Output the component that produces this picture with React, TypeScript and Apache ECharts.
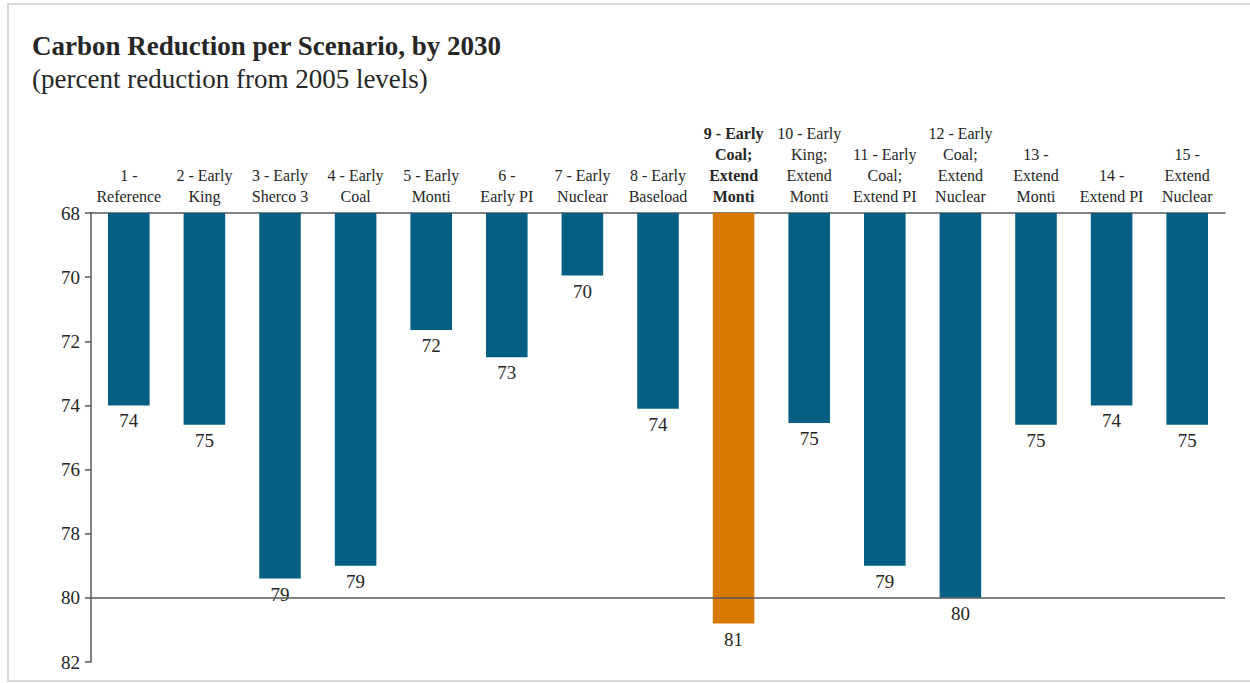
import React, { useEffect, useRef } from "react";
import * as echarts from "echarts";

const categories = [
  "1 -\nReference",
  "2 - Early\nKing",
  "3 - Early\nSherco 3",
  "4 - Early\nCoal",
  "5 - Early\nMonti",
  "6 -\nEarly PI",
  "7 - Early\nNuclear",
  "8 - Early\nBaseload",
  "9 - Early\nCoal;\nExtend\nMonti",
  "10 - Early\nKing;\nExtend\nMonti",
  "11 - Early\nCoal;\nExtend PI",
  "12 - Early\nCoal;\nExtend\nNuclear",
  "13 -\nExtend\nMonti",
  "14 -\nExtend PI",
  "15 -\nExtend\nNuclear",
];
const values = [74.0, 74.6, 79.4, 79.0, 71.65, 72.5, 69.95, 74.1, 80.8, 74.55, 79.0, 80.0, 74.6, 74.0, 74.6];
const highlightIndex = 8;
const yMin = 68;
const yMax = 82;
const yStep = 2;
const refLine = 80;
const titleText = "Carbon Reduction per Scenario, by 2030";
const subtitleText = "(percent reduction from 2005 levels)";

const BLUE = "#045F82";
const ORANGE = "#D77900";
const FONT = "Liberation Serif";

export default function App() {
  const ref = useRef<HTMLDivElement>(null);
  useEffect(() => {
    document.body.style.margin = "0";
    const chart = echarts.init(ref.current!, null, { renderer: "svg" });
    chart.setOption({
      animation: false,
      backgroundColor: "#ffffff",
      textStyle: { fontFamily: FONT },
      graphic: [
        {
          type: "rect",
          shape: { x: 8, y: 4, width: 1260, height: 677 },
          style: { fill: "none", stroke: "#d9d9d9", lineWidth: 2 },
          silent: true,
        },
        {
          type: "text",
          x: 32,
          y: 32,
          style: {
            text: titleText,
            fontFamily: FONT,
            fontSize: 27,
            fontWeight: "bold",
            fill: "#262626",
          },
        },
        {
          type: "text",
          x: 32,
          y: 65,
          style: {
            text: subtitleText,
            fontFamily: FONT,
            fontSize: 27,
            fill: "#262626",
          },
        },
      ],
      grid: { left: 91, right: 25, top: 213, bottom: 21 },
      xAxis: {
        type: "category",
        position: "top",
        data: categories,
        axisLine: { show: true, lineStyle: { color: "#595959", width: 1.5 } },
        axisTick: { show: false },
        axisLabel: {
          interval: 0,
          margin: 6,
          fontFamily: FONT,
          fontSize: 16,
          lineHeight: 21,
          color: "#262626",
          formatter: (v: string, i: number) =>
            i === highlightIndex
              ? v.split("\n").map((s) => `{b|${s}}`).join("\n")
              : v,
          rich: {
            b: { fontFamily: FONT, fontSize: 16, lineHeight: 21, fontWeight: "bold", color: "#262626" },
          },
        },
      },
      yAxis: {
        type: "value",
        inverse: true,
        min: yMin,
        max: yMax,
        interval: yStep,
        splitLine: { show: false },
        axisLine: { show: true, lineStyle: { color: "#595959", width: 1.5 } },
        axisTick: { show: true, length: 6, lineStyle: { color: "#595959", width: 1.5 } },
        axisLabel: { fontFamily: FONT, fontSize: 19, color: "#262626", margin: 11 },
      },
      series: [
        {
          type: "bar",
          barWidth: "55%",
          data: values.map((v, i) => ({
            value: v,
            itemStyle: { color: i === highlightIndex ? ORANGE : BLUE },
          })),
          label: {
            show: true,
            position: "bottom",
            distance: 6,
            fontFamily: FONT,
            fontSize: 19,
            color: "#262626",
            formatter: (p: any) => String(Math.round(p.value)),
          },
          markLine: {
            silent: true,
            symbol: "none",
            label: { show: false },
            lineStyle: { color: "#595959", width: 1.5, type: "solid" },
            data: [{ yAxis: refLine }],
          },
        },
      ],
    });
    return () => chart.dispose();
  }, []);
  return <div ref={ref} style={{ width: 1250, height: 683 }} />;
}
